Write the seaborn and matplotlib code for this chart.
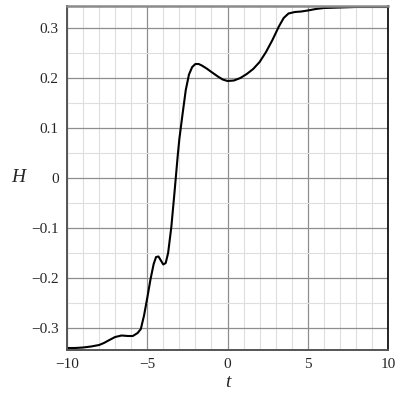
import matplotlib
matplotlib.use("Agg")
import matplotlib.pyplot as plt
import pandas as pd
import seaborn as sns
from matplotlib.ticker import MultipleLocator, FuncFormatter

# values
t_vals = [-10, -9.5, -9, -8.5, -8.0, -7.7, -7.3, -7.0, -6.6, -6.2, -5.9, -5.6,
          -5.4, -5.2, -5.0, -4.8, -4.6, -4.45, -4.3, -4.15, -4.0, -3.85, -3.7,
          -3.5, -3.3, -3.1, -3.0, -2.8, -2.6, -2.4, -2.2, -2.0, -1.8, -1.6,
          -1.3, -1.0, -0.6, -0.3, 0.0, 0.4, 0.8, 1.2, 1.6, 2.0, 2.4, 2.8, 3.2,
          3.5, 3.8, 4.2, 4.6, 5.0, 5.5, 6.0, 7.0, 8.0, 9.0, 10.0]
h_vals = [-0.340, -0.340, -0.339, -0.337, -0.334, -0.330, -0.323, -0.318,
          -0.315, -0.316, -0.316, -0.310, -0.302, -0.275, -0.240, -0.203,
          -0.172, -0.158, -0.157, -0.165, -0.173, -0.170, -0.150, -0.098,
          -0.028, 0.045, 0.078, 0.128, 0.176, 0.207, 0.222, 0.228, 0.228,
          0.225, 0.219, 0.212, 0.203, 0.197, 0.194, 0.195, 0.200, 0.208,
          0.218, 0.232, 0.252, 0.276, 0.303, 0.320, 0.329, 0.332, 0.333,
          0.335, 0.338, 0.340, 0.341, 0.342, 0.342, 0.342]

df = pd.DataFrame({"t": t_vals, "H": h_vals})

sns.set_style("white")
plt.rcParams["font.family"] = ["Liberation Serif", "DejaVu Serif"]

fig = plt.figure(figsize=(4, 4), dpi=100)
ax = fig.add_axes([0.1675, 0.125, 0.8025, 0.86])

sns.lineplot(data=df, x="t", y="H", color="black", linewidth=1.5, ax=ax)

ax.set_xlim(-10, 10)
ax.set_ylim(-0.344, 0.344)

ax.xaxis.set_major_locator(MultipleLocator(5))
ax.xaxis.set_minor_locator(MultipleLocator(1))
ax.yaxis.set_major_locator(MultipleLocator(0.1))
ax.yaxis.set_minor_locator(MultipleLocator(0.05))


def fmt(v, pos):
    if abs(v) < 1e-9:
        return "0"
    s = f"{v:g}"
    return s.replace("-", "\u2212")


ax.xaxis.set_major_formatter(FuncFormatter(fmt))
ax.yaxis.set_major_formatter(FuncFormatter(fmt))

ax.grid(which="major", color="#8e8e8e", linewidth=0.9)
ax.grid(which="minor", color="#dedede", linewidth=0.8)
ax.set_axisbelow(True)

ax.tick_params(which="major", direction="out", length=4, width=1,
               color="#444444", labelsize=11, pad=2)
ax.tick_params(which="minor", direction="out", length=2.5, width=1,
               color="#444444")

for side in ["left", "bottom"]:
    ax.spines[side].set_color("#555555")
    ax.spines[side].set_linewidth(1.4)
ax.spines["top"].set_color("#8a8a8a")
ax.spines["top"].set_linewidth(1.8)
ax.spines["right"].set_color("black")
ax.spines["right"].set_linewidth(1.2)

ax.set_xlabel("t", fontsize=14, style="italic", labelpad=2)
ax.set_ylabel("H", fontsize=14, style="italic", rotation=0, labelpad=9,
              va="center")

fig.savefig("out.png", dpi=100)
